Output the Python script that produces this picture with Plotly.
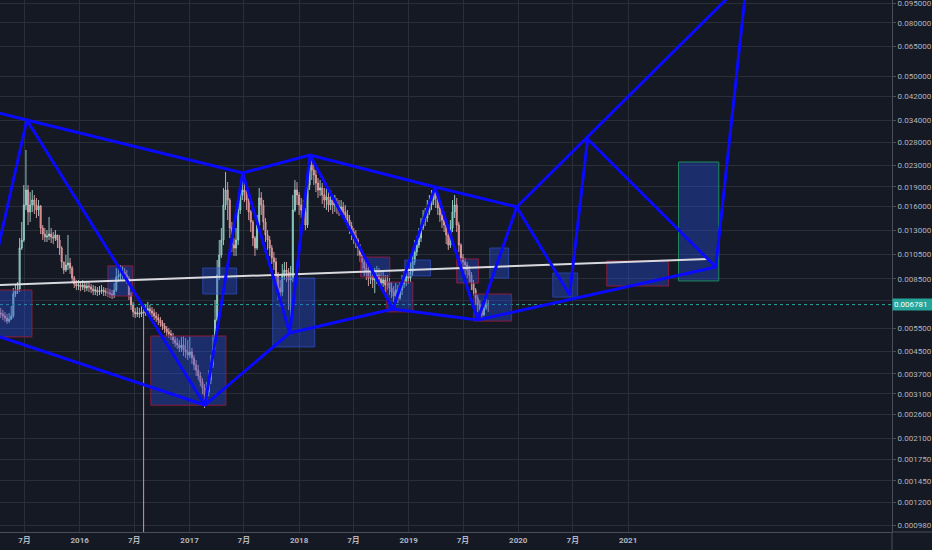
import math
import pandas as pd
import plotly.graph_objects as go

# ---------------- weekly OHLC (log scale quote) ----------------
week_start = "2015-04-13"
first_open = 0.00630

close = [
    0.00625, 0.00614, 0.00603, 0.00587, 0.00597, 0.00614, 0.00744, 0.00763, 0.00777, 0.01113,
    0.01193, 0.01622, 0.01849, 0.01526, 0.01622, 0.01694, 0.01622, 0.01552, 0.01608, 0.01326,
    0.01258, 0.01225, 0.01236, 0.01258, 0.01225, 0.01215, 0.01247, 0.01193, 0.01113, 0.00985,
    0.00918, 0.00959, 0.00976, 0.00934, 0.00856, 0.00812, 0.00798, 0.00805, 0.00791, 0.00805,
    0.00784, 0.00798, 0.00791, 0.00777, 0.00763, 0.00770, 0.00757, 0.00763, 0.00770, 0.00757,
    0.00757, 0.00750, 0.00744, 0.00731, 0.00770, 0.00864, 0.00871, 0.00887, 0.00902, 0.00879,
    0.00856, 0.00737, 0.00676, 0.00636, 0.00625, 0.00630, 0.00625, 0.00636, 0.00630, 0.00647,
    0.00653, 0.00641, 0.00630, 0.00614, 0.00603, 0.00592, 0.00577, 0.00562, 0.00548, 0.00534,
    0.00525, 0.00515, 0.00497, 0.00484, 0.00476, 0.00464, 0.00476, 0.00456, 0.00448, 0.00436,
    0.00448, 0.00425, 0.00400, 0.00382, 0.00363, 0.00344, 0.00327, 0.00307, 0.00315, 0.00350,
    0.00400, 0.00464, 0.00592, 0.00879, 0.01047, 0.01193, 0.01622, 0.01849, 0.01694, 0.01326,
    0.01142, 0.01113, 0.01193, 0.01552, 0.01770, 0.01849, 0.01816, 0.01694, 0.01526, 0.01398,
    0.01215, 0.01113, 0.01361, 0.01724, 0.01622, 0.01398, 0.01247, 0.01193, 0.01113, 0.01021,
    0.00985, 0.00879, 0.00784, 0.00757, 0.00871, 0.00918, 0.00902, 0.00841, 0.00856, 0.01552,
    0.01849, 0.01770, 0.01622, 0.01552, 0.01526, 0.01361, 0.01932, 0.02302, 0.02203, 0.02109,
    0.01966, 0.01849, 0.01882, 0.01770, 0.01694, 0.01740, 0.01622, 0.01694, 0.01622, 0.01651,
    0.01608, 0.01552, 0.01594, 0.01526, 0.01486, 0.01422, 0.01349, 0.01280, 0.01236, 0.01193,
    0.01113, 0.01047, 0.00985, 0.00934, 0.00902, 0.00856, 0.00871, 0.00841, 0.00864, 0.00879,
    0.00849, 0.00819, 0.00841, 0.00805, 0.00826, 0.00784, 0.00757, 0.00731, 0.00770, 0.00718,
    0.00770, 0.00812, 0.00826, 0.00871, 0.00856, 0.00902, 0.00985, 0.01075, 0.01142, 0.01215,
    0.01326, 0.01422, 0.01447, 0.01526, 0.01622, 0.01694, 0.01816, 0.01724, 0.01580, 0.01486,
    0.01422, 0.01361, 0.01247, 0.01142, 0.01326, 0.01526, 0.01622, 0.01361, 0.01142, 0.01021,
    0.00985, 0.00959, 0.00918, 0.00879, 0.00819, 0.00770, 0.00718, 0.00676, 0.00647, 0.00619,
    0.00659, 0.00682, 0.006781,
]

high = [
    0.00659, 0.00647, 0.00636, 0.00625, 0.00630, 0.00670, 0.00784, 0.00805, 0.00826, 0.01215,
    0.01398, 0.01932, 0.02625, 0.01932, 0.01816, 0.01849, 0.01770, 0.01724, 0.01694, 0.01622,
    0.01361, 0.01326, 0.01302, 0.01460, 0.01326, 0.01280, 0.01302, 0.01247, 0.01247, 0.01130,
    0.00985, 0.01047, 0.01247, 0.01021, 0.00951, 0.00871, 0.00841, 0.00841, 0.00834, 0.00841,
    0.00826, 0.00834, 0.00826, 0.00812, 0.00805, 0.00798, 0.00791, 0.00798, 0.00805, 0.00791,
    0.00784, 0.00784, 0.00777, 0.00770, 0.00819, 0.00934, 0.00934, 0.00959, 0.00951, 0.00934,
    0.00918, 0.00871, 0.00757, 0.00694, 0.00659, 0.00664, 0.00659, 0.00670, 0.00670, 0.00682,
    0.00694, 0.00676, 0.00664, 0.00653, 0.00636, 0.00625, 0.00608, 0.00592, 0.00577, 0.00562,
    0.00553, 0.00543, 0.00529, 0.00515, 0.00506, 0.00497, 0.00511, 0.00515, 0.00506, 0.00497,
    0.00511, 0.00464, 0.00436, 0.00417, 0.00400, 0.00376, 0.00356, 0.00338, 0.00344, 0.00382,
    0.00436, 0.00520, 0.00706, 0.01002, 0.01193, 0.01326, 0.01882, 0.02165, 0.01984, 0.01724,
    0.01398, 0.01215, 0.01326, 0.01724, 0.01915, 0.02072, 0.02018, 0.01915, 0.01724, 0.01552,
    0.01422, 0.01236, 0.01486, 0.01882, 0.01816, 0.01694, 0.01447, 0.01302, 0.01236, 0.01142,
    0.01075, 0.01021, 0.00902, 0.00841, 0.00968, 0.00985, 0.00985, 0.00934, 0.00951, 0.01770,
    0.02018, 0.01984, 0.01816, 0.01724, 0.01694, 0.01580, 0.02165, 0.02513, 0.02448, 0.02343,
    0.02203, 0.02054, 0.02018, 0.01966, 0.01882, 0.01882, 0.01816, 0.01849, 0.01770, 0.01770,
    0.01724, 0.01694, 0.01694, 0.01665, 0.01622, 0.01552, 0.01486, 0.01398, 0.01326, 0.01302,
    0.01215, 0.01152, 0.01094, 0.01021, 0.00985, 0.00951, 0.00934, 0.00918, 0.00934, 0.00951,
    0.00934, 0.00902, 0.00902, 0.00879, 0.00879, 0.00856, 0.00826, 0.00798, 0.00819, 0.00805,
    0.00826, 0.00879, 0.00902, 0.00934, 0.00934, 0.00985, 0.01075, 0.01193, 0.01236, 0.01326,
    0.01447, 0.01552, 0.01580, 0.01694, 0.01770, 0.01849, 0.01899, 0.01882, 0.01770, 0.01622,
    0.01552, 0.01526, 0.01398, 0.01280, 0.01422, 0.01694, 0.01770, 0.01724, 0.01400, 0.01160,
    0.01056, 0.01021, 0.00985, 0.00951, 0.00902, 0.00841, 0.00784, 0.00737, 0.00706, 0.00676,
    0.00718, 0.00731, 0.00706,
]

low = [
    0.00603, 0.00592, 0.00582, 0.00572, 0.00577, 0.00592, 0.00603, 0.00724, 0.00744, 0.00757,
    0.01094, 0.01173, 0.01552, 0.01361, 0.01398, 0.01526, 0.01499, 0.01447, 0.01473, 0.01258,
    0.01193, 0.01173, 0.01173, 0.01193, 0.01163, 0.01152, 0.01183, 0.01113, 0.01047, 0.00934,
    0.00887, 0.00902, 0.00918, 0.00887, 0.00826, 0.00784, 0.00770, 0.00770, 0.00763, 0.00770,
    0.00757, 0.00763, 0.00757, 0.00750, 0.00737, 0.00737, 0.00731, 0.00737, 0.00744, 0.00731,
    0.00731, 0.00724, 0.00718, 0.00712, 0.00718, 0.00757, 0.00826, 0.00834, 0.00849, 0.00841,
    0.00812, 0.00706, 0.00647, 0.00608, 0.00603, 0.00608, 0.00603, 0.00608, 0.00065, 0.00614,
    0.00625, 0.00619, 0.00608, 0.00592, 0.00582, 0.00567, 0.00558, 0.00543, 0.00529, 0.00515,
    0.00506, 0.00497, 0.00480, 0.00468, 0.00460, 0.00448, 0.00448, 0.00432, 0.00425, 0.00417,
    0.00425, 0.00403, 0.00382, 0.00363, 0.00350, 0.00332, 0.00310, 0.00274, 0.00294, 0.00304,
    0.00338, 0.00389, 0.00456, 0.00582, 0.00841, 0.01021, 0.01142, 0.01552, 0.01422, 0.01215,
    0.01075, 0.01038, 0.01038, 0.01142, 0.01499, 0.01694, 0.01665, 0.01552, 0.01422, 0.01280,
    0.01132, 0.01038, 0.01094, 0.01326, 0.01486, 0.01302, 0.01173, 0.01094, 0.01038, 0.00968,
    0.00918, 0.00812, 0.00706, 0.00664, 0.00731, 0.00841, 0.00826, 0.00647, 0.00529, 0.00826,
    0.01526, 0.01622, 0.01486, 0.01447, 0.01398, 0.01302, 0.01326, 0.01849, 0.02018, 0.01932,
    0.01816, 0.01724, 0.01755, 0.01636, 0.01580, 0.01552, 0.01526, 0.01552, 0.01499, 0.01526,
    0.01499, 0.01473, 0.01486, 0.01447, 0.01398, 0.01326, 0.01258, 0.01193, 0.01152, 0.01113,
    0.01038, 0.00985, 0.00918, 0.00871, 0.00841, 0.00798, 0.00812, 0.00784, 0.00750, 0.00812,
    0.00798, 0.00784, 0.00791, 0.00757, 0.00770, 0.00737, 0.00718, 0.00694, 0.00706, 0.00688,
    0.00706, 0.00737, 0.00784, 0.00798, 0.00812, 0.00826, 0.00871, 0.00959, 0.01038, 0.01113,
    0.01173, 0.01302, 0.01349, 0.01398, 0.01486, 0.01552, 0.01622, 0.01580, 0.01486, 0.01398,
    0.01326, 0.01280, 0.01152, 0.01094, 0.01113, 0.01280, 0.01447, 0.01280, 0.01075, 0.00968,
    0.00918, 0.00879, 0.00856, 0.00826, 0.00770, 0.00731, 0.00682, 0.00636, 0.00614, 0.00603,
    0.00614, 0.00647, 0.00636,
]

last_price = 0.006781

# ---------------- drawing anchors (date, price) ----------------
top_line_dates = ["2015-02-20", "2015-07-09", "2017-06-27", "2018-02-06", "2019-03-30", "2019-12-27"]
top_line_prices = [0.03742, 0.03413, 0.02146, 0.02513, 0.01898, 0.01594]

left_line_dates = ["2015-03-25", "2015-07-09", "2017-02-21"]
left_line_prices = [0.00985, 0.03413, 0.002814]

bottom_line_dates = ["2015-02-20", "2017-02-21", "2017-12-01", "2018-11-09", "2019-08-19", "2021-10-20"]
bottom_line_prices = [0.005335, 0.002814, 0.005289, 0.006523, 0.005924, 0.009423]

zigzag_dates = ["2017-02-21", "2017-06-27", "2017-12-01", "2018-02-06", "2018-11-09", "2019-03-30",
                "2019-08-19", "2019-12-27", "2020-06-20", "2020-08-19", "2021-10-20", "2022-02-04"]
zigzag_prices = [0.002814, 0.02146, 0.005289, 0.02513, 0.006523, 0.01898,
                 0.005924, 0.01594, 0.007376, 0.02890, 0.009423, 0.1269]

upper_ray_dates = ["2019-12-27", "2022-03-15"]
upper_ray_prices = [0.01594, 0.1310]

mid_line_dates = ["2015-03-08", "2021-09-23"]
mid_line_prices = [0.008022, 0.01011]

# boxes: start, end, low, high
red_box_start = ["2015-03-25", "2016-04-04", "2016-08-25", "2018-07-25", "2018-10-20", "2019-06-10", "2019-08-06", "2020-10-22"]
red_box_end   = ["2015-07-26", "2016-06-26", "2017-05-02", "2018-10-30", "2019-01-15", "2019-08-22", "2019-12-10", "2021-05-16"]
red_box_low   = [0.00511, 0.00731, 0.00281, 0.00864, 0.00636, 0.00819, 0.00587, 0.00798]
red_box_high  = [0.00770, 0.00951, 0.00515, 0.01028, 0.00826, 0.01011, 0.00744, 0.00993]

blue_box_start = ["2017-02-14", "2017-10-05", "2018-12-19", "2019-09-28", "2020-04-25"]
blue_box_end   = ["2017-06-07", "2018-02-22", "2019-03-15", "2019-11-30", "2020-07-17"]
blue_box_low   = [0.00744, 0.00468, 0.00871, 0.00856, 0.00724]
blue_box_high  = [0.00934, 0.00856, 0.01002, 0.01113, 0.00894]

green_box_start = ["2021-06-18"]
green_box_end   = ["2021-10-30"]
green_box_low   = [0.00834]
green_box_high  = [0.02363]

# ---------------- axis ticks ----------------
x_tick_dates = ["2015-07-01", "2016-01-01", "2016-07-01", "2017-01-01", "2017-07-01", "2018-01-01",
                "2018-07-01", "2019-01-01", "2019-07-01", "2020-01-01", "2020-07-01", "2021-01-01"]
x_tick_text = ["7月", "2016", "7月", "2017", "7月", "2018", "7月", "2019", "7月", "2020", "7月", "2021"]

y_tick_vals = [0.00098, 0.0012, 0.00145, 0.00175, 0.0021, 0.0026, 0.0031, 0.0037, 0.0045, 0.0055,
               0.007, 0.0085, 0.0105, 0.013, 0.016, 0.019, 0.023, 0.028, 0.034, 0.042, 0.05,
               0.065, 0.08, 0.095]
# the 0.007 grid level sits under the last-price tag, so its label is left blank
y_tick_text = ["" if v == 0.007 else f"{v:.6f}" for v in y_tick_vals]

# ---------------- styling ----------------
BG = "#151924"
GRID = "#2a2e39"
AXIS_TXT = "#b2b5be"
AXIS_LINE = "#4a4e5a"
BLUE = "#0a0aff"
FONT = "Roboto, Noto Sans CJK SC, sans-serif"

dates = pd.date_range(week_start, periods=len(close), freq="7D")
opens = [first_open] + close[:-1]
highs = [max(h, o, c) for h, o, c in zip(high, opens, close)]
lows = [min(l, o, c) for l, o, c in zip(low, opens, close)]

fig = go.Figure()

x_min, x_max = "2015-04-10 14:00", "2023-05-30 02:00"

# last-price dotted line
fig.add_trace(go.Scatter(x=[x_min, x_max], y=[last_price, last_price], mode="lines",
                         line=dict(color="#26a69a", width=1, dash="dot"), hoverinfo="skip"))

fig.add_trace(go.Candlestick(
    x=dates, open=opens, high=highs, low=lows, close=close,
    increasing=dict(line=dict(color="rgba(160,215,205,0.9)", width=1), fillcolor="#26a69a"),
    decreasing=dict(line=dict(color="rgba(225,165,170,0.9)", width=1), fillcolor="#ef5350"),
    whiskerwidth=0, hoverinfo="skip",
))


def add_boxes(starts, ends, lows_, highs_, edge):
    for s, e, lo, hi in zip(starts, ends, lows_, highs_):
        fig.add_trace(go.Scatter(
            x=[s, e, e, s, s], y=[lo, lo, hi, hi, lo], mode="lines", fill="toself",
            fillcolor="rgba(36,78,220,0.38)", line=dict(color=edge, width=1), hoverinfo="skip"))


add_boxes(red_box_start, red_box_end, red_box_low, red_box_high, "#8a1d3c")
add_boxes(blue_box_start, blue_box_end, blue_box_low, blue_box_high, "rgba(45,80,200,0.7)")
add_boxes(green_box_start, green_box_end, green_box_low, green_box_high, "#1f8a5c")

fig.add_trace(go.Scatter(x=mid_line_dates, y=mid_line_prices, mode="lines",
                         line=dict(color="#d9dadf", width=2), hoverinfo="skip"))

for xs, ys in [(top_line_dates, top_line_prices), (left_line_dates, left_line_prices),
               (bottom_line_dates, bottom_line_prices), (zigzag_dates, zigzag_prices),
               (upper_ray_dates, upper_ray_prices)]:
    fig.add_trace(go.Scatter(x=xs, y=ys, mode="lines",
                             line=dict(color=BLUE, width=3), hoverinfo="skip"))

fig.add_annotation(
    x=1, xref="paper", xanchor="left", xshift=0,
    y=math.log10(last_price), yref="y", yanchor="middle",
    text="0.006781", showarrow=False, bgcolor="#26a69a",
    font=dict(color="#ffffff", size=8, family=FONT),
    borderpad=1, width=38, align="left",
)

# price-scale border running down through the time-scale strip, and time-scale border under the price scale
fig.add_shape(type="line", xref="paper", yref="paper", x0=1, x1=1, y0=-0.04, y1=0,
              line=dict(color=AXIS_LINE, width=1))
fig.add_shape(type="line", xref="paper", yref="paper", x0=1, x1=1.05, y0=0, y1=0,
              line=dict(color=AXIS_LINE, width=1))

fig.update_layout(
    width=932, height=550,
    margin=dict(l=0, r=40, t=0, b=18),
    paper_bgcolor=BG, plot_bgcolor=BG,
    showlegend=False,
    font=dict(family=FONT, color=AXIS_TXT, size=8),
    xaxis=dict(
        type="date", range=[x_min, x_max], rangeslider=dict(visible=False),
        tickvals=x_tick_dates, ticktext=x_tick_text,
        showgrid=True, gridcolor=GRID, gridwidth=1, zeroline=False,
        showline=True, linecolor=AXIS_LINE, linewidth=1, ticks="",
        tickfont=dict(size=8, color=AXIS_TXT, weight="bold"), automargin=False,
    ),
    yaxis=dict(
        type="log", range=[-3.0334, -1.0106], side="right",
        tickvals=y_tick_vals, ticktext=y_tick_text,
        showgrid=True, gridcolor=GRID, gridwidth=1, zeroline=False,
        showline=True, linecolor=AXIS_LINE, linewidth=1,
        ticks="outside", ticklen=3, tickcolor=AXIS_LINE,
        tickfont=dict(size=8, color=AXIS_TXT), automargin=False,
        ticklabeloverflow="allow",
    ),
)

fig.write_html("out.html")
